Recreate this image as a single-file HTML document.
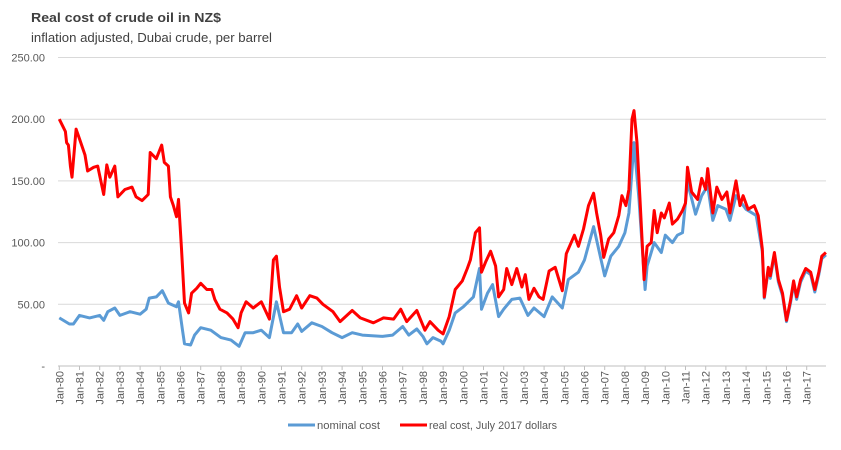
<!DOCTYPE html>
<html><head><meta charset="utf-8"><style>
body{margin:0;background:#fff;width:841px;height:445px;overflow:hidden;font-family:"Liberation Sans",sans-serif}
</style></head><body>
<svg id="chart" width="841" height="445" xmlns="http://www.w3.org/2000/svg">
<text x="31" y="22" font-size="13" font-weight="bold" fill="#404040" font-family="Liberation Sans, sans-serif" textLength="190" lengthAdjust="spacingAndGlyphs">Real cost of crude oil in NZ$</text>
<text x="31" y="42" font-size="13" fill="#404040" font-family="Liberation Sans, sans-serif" textLength="241" lengthAdjust="spacingAndGlyphs">inflation adjusted, Dubai crude, per barrel</text>
<g id="grid"></g><g id="series"></g><g id="axes"></g>
<g>
<line x1="288" y1="425" x2="315" y2="425" stroke="#5b9bd5" stroke-width="3"/>
<text x="317" y="429" font-size="11" fill="#595959" textLength="63" lengthAdjust="spacingAndGlyphs">nominal cost</text>
<line x1="400" y1="425" x2="427" y2="425" stroke="#ff0000" stroke-width="3"/>
<text x="429" y="429" font-size="11" fill="#595959" textLength="128" lengthAdjust="spacingAndGlyphs">real cost, July 2017 dollars</text>
</g>
</svg>
<script>
const yTicks=[0,50,100,150,200,250];
const xYears=[1980,1981,1982,1983,1984,1985,1986,1987,1988,1989,1990,1991,1992,1993,1994,1995,1996,1997,1998,1999,2000,2001,2002,2003,2004,2005,2006,2007,2008,2009,2010,2011,2012,2013,2014,2015,2016,2017];
const redDates=[1980.0,1980.3,1980.36,1980.45,1980.55,1980.63,1980.83,1981.0,1981.27,1981.4,1981.7,1981.9,1982.2,1982.35,1982.5,1982.75,1982.9,1983.25,1983.6,1983.8,1984.1,1984.4,1984.5,1984.8,1985.07,1985.2,1985.4,1985.5,1985.65,1985.8,1985.9,1986.05,1986.2,1986.4,1986.55,1986.8,1987.0,1987.3,1987.55,1987.7,1987.95,1988.3,1988.6,1988.85,1989.0,1989.25,1989.6,1990.0,1990.4,1990.6,1990.75,1990.9,1991.1,1991.4,1991.75,1992.0,1992.4,1992.75,1993.05,1993.55,1993.9,1994.5,1994.9,1995.55,1996.05,1996.55,1996.9,1997.2,1997.7,1998.1,1998.35,1998.75,1999.0,1999.3,1999.6,1999.95,2000.2,2000.35,2000.6,2000.8,2000.9,2001.1,2001.35,2001.6,2001.75,2002.0,2002.15,2002.4,2002.65,2002.9,2003.07,2003.25,2003.5,2003.75,2003.95,2004.25,2004.55,2004.9,2005.1,2005.5,2005.7,2005.95,2006.2,2006.45,2006.6,2006.8,2006.95,2007.2,2007.45,2007.7,2007.85,2008.05,2008.2,2008.35,2008.45,2008.6,2008.75,2008.95,2009.1,2009.3,2009.45,2009.6,2009.8,2009.95,2010.2,2010.35,2010.6,2010.85,2011.0,2011.1,2011.3,2011.6,2011.8,2012.0,2012.1,2012.35,2012.55,2012.8,2013.05,2013.2,2013.5,2013.7,2013.85,2014.1,2014.4,2014.6,2014.8,2014.9,2015.1,2015.2,2015.4,2015.6,2015.8,2016.0,2016.2,2016.35,2016.5,2016.7,2016.95,2017.2,2017.4,2017.6,2017.75,2017.95];
const redValues=[200,190,181,179,162,153,192,184,171,158,161,162,139,163,153,162,137,143,145,137,134,139,173,168,179,165,162,137,130,121,135,95,51,43,59,63,67,62,62,54,46,43,38,31,43,52,47,52,38,86,89,64,44,46,57,47,57,55,50,44,36,45,39,35,39,38,46,36,45,29,36,29,26,40,62,69,79,86,108,112,76,84,93,81,56,62,79,66,79,64,74,54,63,56,54,77,80,61,91,106,97,111,130,140,124,106,88,103,108,122,138,130,143,200,207,181,135,70,97,100,126,108,124,120,132,115,119,126,132,161,141,135,152,143,160,124,145,135,141,124,150,130,138,127,130,122,95,56,80,73,92,70,59,37,53,69,56,70,79,76,62,76,89,92];
const blueDates=[1980.0,1980.5,1980.7,1981.0,1981.5,1982.0,1982.2,1982.4,1982.75,1983.0,1983.5,1984.0,1984.3,1984.45,1984.8,1985.1,1985.4,1985.8,1985.9,1986.1,1986.2,1986.5,1986.7,1987.0,1987.5,1988.0,1988.5,1988.9,1989.2,1989.6,1990.0,1990.4,1990.75,1991.1,1991.5,1991.8,1992.0,1992.5,1993.0,1993.5,1994.0,1994.5,1995.0,1996.0,1996.5,1997.0,1997.3,1997.7,1998.0,1998.2,1998.5,1998.9,1999.0,1999.3,1999.6,2000.0,2000.5,2000.8,2000.9,2001.2,2001.45,2001.75,2002.0,2002.4,2002.8,2003.2,2003.5,2004.0,2004.4,2004.9,2005.2,2005.7,2006.0,2006.45,2006.7,2007.0,2007.3,2007.7,2008.0,2008.2,2008.45,2008.7,2009.0,2009.1,2009.45,2009.8,2010.0,2010.35,2010.6,2010.85,2011.1,2011.5,2011.8,2012.1,2012.35,2012.6,2013.0,2013.2,2013.5,2014.0,2014.5,2014.8,2014.9,2015.1,2015.2,2015.4,2015.6,2015.8,2016.0,2016.2,2016.35,2016.5,2016.7,2016.95,2017.2,2017.4,2017.6,2017.75,2017.95];
const blueValues=[39,34,34,41,39,41,37,44,47,41,44,42,46,55,56,61,51,48,52,29,18,17,25,31,29,23,21,16,27,27,29,23,52,27,27,34,28,35,32,27,23,27,25,24,25,32,25,30,24,18,23,20,18,29,43,48,56,79,46,59,66,40,46,54,55,41,47,40,56,47,70,76,86,113,95,73,89,97,108,124,181,135,62,81,100,92,106,100,106,108,149,123,138,146,118,130,127,118,138,127,122,93,55,78,71,90,68,57,36,51,67,54,68,77,74,60,74,87,90];
const NS='http://www.w3.org/2000/svg';
const L=58,R=826,T=57.5,B=366;
function xs(y){return 59.3+(y-1980)*20.2;}
function ys(v){return B-(v/250)*(B-T);}
const grid=document.getElementById('grid'),axes=document.getElementById('axes'),ser=document.getElementById('series');
function mk(tag,attrs,parent){const e=document.createElementNS(NS,tag);for(const k in attrs)e.setAttribute(k,attrs[k]);parent.appendChild(e);return e;}
yTicks.forEach(v=>{
  if(v>0){const g=mk('line',{x1:L,x2:R,y1:ys(v),y2:ys(v),stroke:'#d9d9d9','stroke-width':1},grid);
  
  }
  const t=mk('text',{x:45,y:ys(v)+4,'text-anchor':'end','font-size':11,fill:'#595959'},axes);
  t.textContent=v===0?'-':v.toFixed(2);
  
  
});
const ax=mk('line',{x1:L,x2:R,y1:B,y2:B,stroke:'#bfbfbf','stroke-width':1},axes);


xYears.forEach(y=>{
  const x=xs(y);
  const tk=mk('line',{x1:x,x2:x,y1:B,y2:B+4,stroke:'#bfbfbf'},axes);
  
  
  const t=mk('text',{x:0,y:0,'text-anchor':'end','font-size':11,fill:'#595959',transform:`translate(${x+4},${B+5}) rotate(-90)`},axes);
  t.textContent='Jan-'+String(y).slice(2);
  
  
});
function line(dates,vals,color,name){
  const d=dates.map((t,i)=>(i?'L':'M')+xs(t).toFixed(1)+','+ys(vals[i]).toFixed(1)).join('');
  const p=mk('path',{d:d,fill:'none',stroke:color,'stroke-width':3,'stroke-linejoin':'round'},ser);
  
  
}
line(blueDates,blueValues,'#5b9bd5','nominal-cost-line');
line(redDates,redValues,'#ff0000','real-cost-line');
</script>
</body></html>
